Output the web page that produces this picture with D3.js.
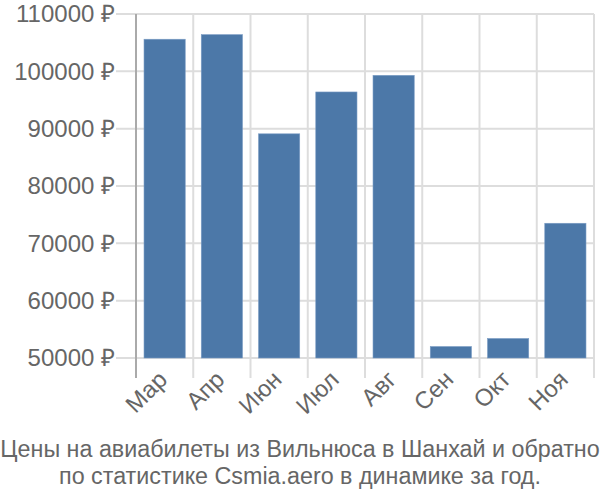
<!DOCTYPE html>
<html><head><meta charset="utf-8">
<script src="https://cdn.jsdelivr.net/npm/d3@7"></script>
<style>body{margin:0;background:#fff;} text{font-family:"Liberation Sans",Arial,sans-serif;}</style>
</head><body><svg id="c" width="600" height="500"></svg>
<script>
const months = ["Мар","Апр","Июн","Июл","Авг","Сен","Окт","Ноя"];
const prices = [105600,106400,89100,96400,99300,52000,53400,73500];
const yTicks = [50000,60000,70000,80000,90000,100000,110000];
const captionLines = ["Цены на авиабилеты из Вильнюса в Шанхай и обратно","по статистике Csmia.aero в динамике за год."];

(function(){
const svg = d3.select("#c");
const mLeft = 136, mRight = 594, mTop = 14, mBottom = 358;
const x = d3.scaleBand().domain(months).range([mLeft,mRight]).paddingInner(0.28).paddingOuter(0.14);
const y = d3.scaleLinear().domain([50000,110000]).range([mBottom,mTop]);
const bandStep = x.step();

const g = svg.append("g");
g.selectAll(".hg").data(yTicks).join("line")
  .attr("x1",116).attr("x2",mRight).attr("y1",d=>y(d)).attr("y2",d=>y(d))
  .attr("stroke","#dddddd").attr("stroke-width",2);
const vEdges = d3.range(months.length+1).map(i=>mLeft+i*bandStep);
g.selectAll(".vg").data(vEdges.slice(1)).join("line")
  .attr("x1",d=>d).attr("x2",d=>d).attr("y1",mTop).attr("y2",378)
  .attr("stroke","#dddddd").attr("stroke-width",2);
svg.append("line").attr("x1",mLeft).attr("x2",mLeft).attr("y1",mTop).attr("y2",378)
  .attr("stroke","#aaaaaa").attr("stroke-width",2);

svg.selectAll(".bar").data(prices).join("rect")
  .attr("x",(d,i)=>x(months[i])).attr("width",x.bandwidth())
  .attr("y",d=>y(d)).attr("height",d=>y(50000)-y(d))
  .attr("fill","#4c78a8").attr("stroke","#7a9cc4").attr("stroke-width",0.6);

svg.selectAll(".yl").data(yTicks).join("text")
  .attr("x",115).attr("y",d=>y(d)).attr("dy","0.35em")
  .attr("text-anchor","end").attr("font-size",24).attr("fill","#666")
  .text(d=>d+" ₽");

svg.selectAll(".xl").data(months).join("text")
  .attr("transform",d=>`translate(${x(d)+x.bandwidth()/2+4},${381}) rotate(-45)`)
  .attr("text-anchor","end").attr("font-size",24).attr("fill","#666")
  .text(d=>d);

svg.selectAll(".cap").data(captionLines).join("text")
  .attr("x",300).attr("y",(d,i)=>457+i*27)
  .attr("text-anchor","middle").attr("font-size",23.3).attr("fill","#666")
  .text(d=>d);
})();
</script></body></html>
